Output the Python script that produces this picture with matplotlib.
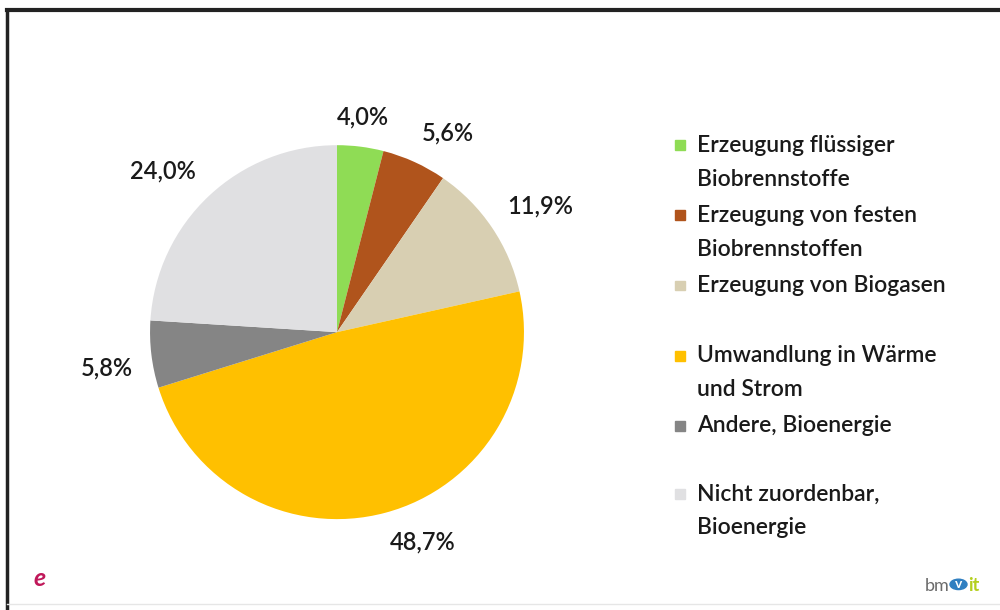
import numpy as np
import matplotlib.pyplot as plt
from matplotlib.lines import Line2D
from matplotlib.patches import Rectangle, Circle

plt.rcParams['font.family'] = ['Lato', 'DejaVu Sans']

# Anteile der Bioenergie
categories = ["Erzeugung flüssiger\nBiobrennstoffe",
              "Erzeugung von festen\nBiobrennstoffen",
              "Erzeugung von Biogasen",
              "Umwandlung in Wärme\nund Strom",
              "Andere, Bioenergie",
              "Nicht zuordenbar,\nBioenergie"]
values = [4.0, 5.6, 11.9, 48.7, 5.8, 24.0]
value_labels = ["4,0%", "5,6%", "11,9%", "48,7%", "5,8%", "24,0%"]
colors = ["#8fdc55", "#b0541c", "#d8cfb2", "#ffc000", "#858585", "#e0e0e2"]

fig = plt.figure(figsize=(10, 6.1), dpi=100)

# Pie-Achse
ax = fig.add_axes([0.150, 0.149, 0.374, 0.613])
wedges, _ = ax.pie(values, colors=colors, startangle=90, counterclock=False,
                   radius=1.0, wedgeprops=dict(linewidth=0))
ax.set_xlim(-1, 1)
ax.set_ylim(-1, 1)
ax.set_aspect('equal')
ax.axis('off')

# Beschriftung aussen, wie Excel "Ende außerhalb"
for w, lab in zip(wedges, value_labels):
    ang = np.deg2rad((w.theta1 + w.theta2) / 2)
    c, s = np.cos(ang), np.sin(ang)
    r = 1.1
    ha = 'left' if c > 0.2 else ('right' if c < -0.2 else 'center')
    va = 'bottom' if s > 0.3 else ('top' if s < -0.1 else 'center')
    ax.text(r * c, r * s, lab, ha=ha, va=va, fontsize=17, color='#1a1a1a',
            fontweight='semibold')

# Legende von Hand
leg_y = [0.763, 0.648, 0.533, 0.418, 0.303, 0.191]
for lab, col, y in zip(categories, colors, leg_y):
    fig.patches.append(Rectangle((0.675, y - 0.009), 0.010, 0.016, color=col,
                                 transform=fig.transFigure))
    fig.text(0.697, y + 0.016, lab, ha='left', va='top', fontsize=16.5,
             color='#1a1a1a', linespacing=1.75, fontweight='semibold')

# Rahmen
fig.add_artist(Line2D([0.007, 1.0], [0.984, 0.984], color='#222222', lw=3,
                      transform=fig.transFigure))
fig.add_artist(Line2D([0.007, 0.007], [0.0, 0.984], color='#222222', lw=2.5,
                      transform=fig.transFigure))
fig.add_artist(Line2D([0.007, 1.0], [0.010, 0.010], color='#e6e6e6', lw=1,
                      transform=fig.transFigure))

# Logos
fig.text(0.040, 0.052, "e", fontsize=18, color='#c0185a', style='italic',
         fontweight='bold', ha='center', va='center')
fig.text(0.950, 0.040, "bm", fontsize=13, color='#6b6b6b', ha='right', va='center')
fig.patches.append(Circle((0.9585, 0.042), 0.0085, color='#2f7fc1',
                          transform=fig.transFigure))
fig.text(0.9585, 0.042, "v", fontsize=10, color='white', fontweight='bold',
         ha='center', va='center')
fig.text(0.968, 0.040, "it", fontsize=13, color='#b4cf1e', fontweight='bold',
         ha='left', va='center')

fig.savefig("out.png", dpi=100, facecolor='white')
